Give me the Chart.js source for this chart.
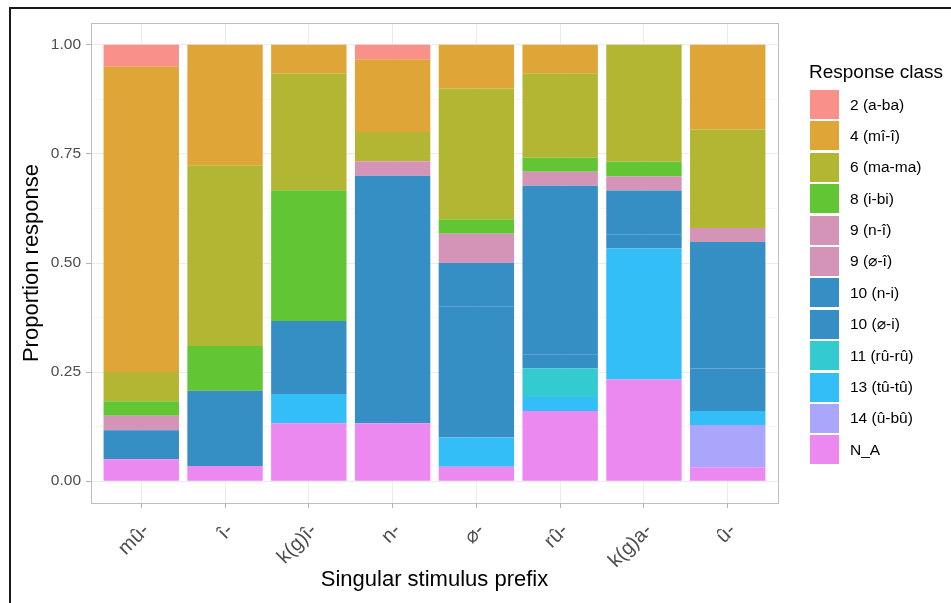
<!DOCTYPE html>
<html>
<head>
<meta charset="utf-8">
<script src="https://cdn.jsdelivr.net/npm/chart.js@4.4.1/dist/chart.umd.min.js"></script>
<style>
  html, body { margin: 0; padding: 0; background: #fff; }
  #wrap { position: relative; width: 951px; height: 603px; overflow: hidden;
          font-family: 'Liberation Sans', Arial, 'DejaVu Sans', sans-serif; }
  #chart { position: absolute; left: 0; top: 0; }
  #frame { position: absolute; left: 9px; top: 7px; width: 960px; height: 620px;
           border-top: 2px solid #1a1a1a; border-left: 2px solid #1a1a1a; pointer-events: none; }
  #legend-title { position: absolute; left: 809px; top: 62px; font-size: 19px; line-height: 19px;
                  color: #000; white-space: nowrap; }
  #legend { position: absolute; left: 810px; top: 90px; }
  .item { display: flex; align-items: center; height: 29px; margin-bottom: 2.4px; }
  .swatch { width: 29px; height: 29px; }
  .item span { margin-left: 11px; font-size: 15.5px; color: #000; white-space: nowrap; }
</style>
</head>
<body>
<div id="wrap">
  <canvas id="chart" width="951" height="603"></canvas>
  <div id="legend-title">Response class</div>
  <div id="legend"></div>
  <div id="frame"></div>
</div>
<script>
// stimulus prefixes (x categories)
const prefixes = ['mû-', 'î-', 'k(g)î-', 'n-', '⌀-', 'rû-', 'k(g)a-', 'û-'];

// response classes, in legend order (top of stack first)
const classes = ['2 (a-ba)', '4 (mî-î)', '6 (ma-ma)', '8 (i-bi)', '9 (n-î)', '9 (⌀-î)',
                 '10 (n-i)', '10 (⌀-i)', '11 (rû-rû)', '13 (tû-tû)', '14 (û-bû)', 'N_A'];

// proportions per prefix
const aba   = [0.050, 0,     0,     0.033, 0,     0,     0,     0];
const mii   = [0.700, 0.276, 0.066, 0.167, 0.100, 0.065, 0,     0.194];
const mama  = [0.067, 0.414, 0.267, 0.067, 0.300, 0.194, 0.268, 0.226];
const ibi   = [0.033, 0.103, 0.300, 0,     0.033, 0.032, 0.033, 0];
const nIi   = [0,     0,     0,     0.033, 0,     0,     0,     0];
const zeroI = [0.033, 0,     0,     0,     0.067, 0.032, 0.033, 0.032];
const ni    = [0.067, 0.172, 0.167, 0.567, 0.100, 0.387, 0.100, 0.290];
const zeroi = [0,     0,     0,     0,     0.300, 0.032, 0.033, 0.097];
const ruru  = [0,     0,     0,     0,     0,     0.065, 0,     0];
const tutu  = [0,     0,     0.067, 0,     0.067, 0.032, 0.300, 0.032];
const ubu   = [0,     0,     0,     0,     0,     0,     0,     0.097];
const na    = [0.050, 0.035, 0.133, 0.133, 0.033, 0.161, 0.233, 0.032];

const series = [aba, mii, mama, ibi, nIi, zeroI, ni, zeroi, ruru, tutu, ubu, na];

// y axis: major ticks every 0.25, minor in between
const yTicks = [0, 0.125, 0.25, 0.375, 0.5, 0.625, 0.75, 0.875, 1];

const colours = ['#f9918a', '#dfa536', '#b3b633', '#62c534', '#d494b8', '#d494b8',
                 '#358fc4', '#358fc4', '#33cad0', '#34bef7', '#a9a6fb', '#eb89f1'];

const isMajor = v => Math.abs(v / 0.25 - Math.round(v / 0.25)) < 1e-9;

// panel border like ggplot's theme_light
const panelBorder = {
    id: 'panelBorder',
    afterDraw(chart) {
        const { ctx, chartArea: a } = chart;
        ctx.save();
        ctx.strokeStyle = '#bdbdbd';
        ctx.lineWidth = 1;
        ctx.strokeRect(Math.round(a.left) + 0.5, Math.round(a.top) + 0.5,
                       Math.round(a.right - a.left), Math.round(a.bottom - a.top));
        ctx.restore();
    }
};

Chart.defaults.font.family = "'Liberation Sans', Arial, 'DejaVu Sans', sans-serif";

// Chart.js stacks the first dataset at the bottom, so N_A goes first
const datasets = classes.map((label, k) => ({
    label: label,
    data: series[k].map((v, i) => ({ x: i + 1, y: v })),
    backgroundColor: colours[k],
    borderWidth: 0,
    barPercentage: 0.9,
    categoryPercentage: 1.0,
})).reverse();

const chart = new Chart(document.getElementById('chart'), {
    type: 'bar',
    data: { datasets: datasets },
    plugins: [panelBorder],
    options: {
        responsive: false,
        devicePixelRatio: 1,
        animation: false,
        layout: { padding: { left: 0, top: 23, right: 173, bottom: 0 } },
        plugins: { legend: { display: false }, tooltip: { enabled: false } },
        scales: {
            x: {
                type: 'linear',
                min: 0.4,
                max: 8.6,
                offset: false,
                stacked: true,
                afterBuildTicks: s => { s.ticks = prefixes.map((p, i) => ({ value: i + 1 })); },
                afterFit: s => { s.height = 100; },
                border: { display: false },
                grid: { offset: false, color: '#ebebeb', lineWidth: 1, tickColor: '#b3b3b3', tickLength: 5 },
                ticks: {
                    autoSkip: false,
                    minRotation: 45,
                    maxRotation: 45,
                    padding: 11,
                    labelOffset: 5,
                    color: '#4d4d4d',
                    font: { size: 20 },
                    callback: v => prefixes[v - 1],
                },
                title: {
                    display: true,
                    text: 'Singular stimulus prefix',
                    color: '#000',
                    font: { size: 22 },
                    padding: { top: 0, bottom: 10 },
                },
            },
            y: {
                min: -0.05,
                max: 1.05,
                stacked: true,
                afterBuildTicks: s => { s.ticks = yTicks.map(v => ({ value: v })); },
                afterFit: s => { s.width = 91; },
                border: { display: false },
                grid: {
                    color: c => isMajor(c.tick.value) ? '#ebebeb' : '#f5f5f5',
                    lineWidth: 1,
                    tickColor: c => isMajor(c.tick.value) ? '#b3b3b3' : 'rgba(0,0,0,0)',
                    tickLength: 5,
                },
                ticks: {
                    padding: 5,
                    color: '#4d4d4d',
                    font: { size: 15.5 },
                    callback: v => isMajor(v) ? v.toFixed(2) : '',
                },
                title: {
                    display: true,
                    text: 'Proportion response',
                    color: '#000',
                    font: { size: 22 },
                    padding: { top: 19, bottom: 0 },
                },
            },
        },
    },
});

// legend in ggplot order: first class at the top
const legendBox = document.getElementById('legend');
chart.data.datasets.slice().reverse().forEach(ds => {
    const item = document.createElement('div');
    item.className = 'item';
    const sw = document.createElement('div');
    sw.className = 'swatch';
    sw.style.background = ds.backgroundColor;
    const txt = document.createElement('span');
    txt.textContent = ds.label;
    item.appendChild(sw);
    item.appendChild(txt);
    legendBox.appendChild(item);
});
</script>
</body>
</html>
